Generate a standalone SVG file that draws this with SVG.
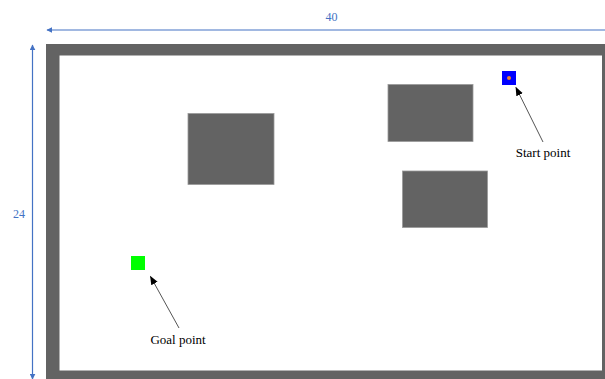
<svg xmlns="http://www.w3.org/2000/svg" width="605" height="379" viewBox="0 0 605 379">
<defs>
<style>
.obs{fill:#636363;stroke:#9a9a9a;stroke-width:0.8}
.dim{stroke:#4472C4;stroke-width:1.2;fill:none}
.dimtxt{font-family:"Liberation Serif",serif;font-size:12px;fill:#4472C4;text-anchor:middle}
.lbl{font-family:"Liberation Serif",serif;font-size:13px;fill:#000;text-anchor:middle}
.ptr{stroke:#555;stroke-width:1;fill:none}
</style>
<marker id="ab" viewBox="0 0 10 10" refX="9" refY="5" markerWidth="6" markerHeight="6" orient="auto-start-reverse" markerUnits="userSpaceOnUse"><path d="M0,0 L10,5 L0,10 z" fill="#4472C4"/></marker>
<marker id="ak" viewBox="0 0 10 10" refX="9" refY="5" markerWidth="9" markerHeight="9" orient="auto" markerUnits="userSpaceOnUse"><path d="M0,1 L10,5 L0,9 z" fill="#000"/></marker>
</defs>
<rect width="605" height="379" fill="#fff"/>
<g id="border">
<rect x="46" y="44" width="570" height="345" fill="#636363"/>
<rect x="59.5" y="55.5" width="542.5" height="315" fill="#fff"/>
</g>
<g id="obstacle1"><rect class="obs" x="188" y="113.5" width="86" height="71"/></g>
<g id="obstacle2"><rect class="obs" x="388" y="84.5" width="85" height="57"/></g>
<g id="obstacle3"><rect class="obs" x="402.5" y="171" width="85" height="56.5"/></g>
<g id="start">
<rect x="502" y="71" width="14" height="14" fill="#0000FF"/>
<circle cx="509" cy="78" r="2" fill="#F08030"/>
</g>
<g id="goal"><rect x="131" y="256" width="14" height="14" fill="#00FF00"/></g>
<g id="connectors">
<line class="dim" x1="605" y1="30" x2="47" y2="30" marker-end="url(#ab)"/>
<line class="dim" x1="32.5" y1="45" x2="32.5" y2="379" marker-start="url(#ab)" marker-end="url(#ab)"/>
<line class="ptr" x1="543" y1="142" x2="516" y2="87.5" marker-end="url(#ak)"/>
<line class="ptr" x1="179" y1="328" x2="150.5" y2="276.5" marker-end="url(#ak)"/>
</g>
<text class="dimtxt" x="331.5" y="21">40</text>
<text class="dimtxt" x="19" y="218">24</text>
<text class="lbl" x="543" y="157">Start point</text>
<text class="lbl" x="178" y="343.5">Goal point</text>
</svg>
